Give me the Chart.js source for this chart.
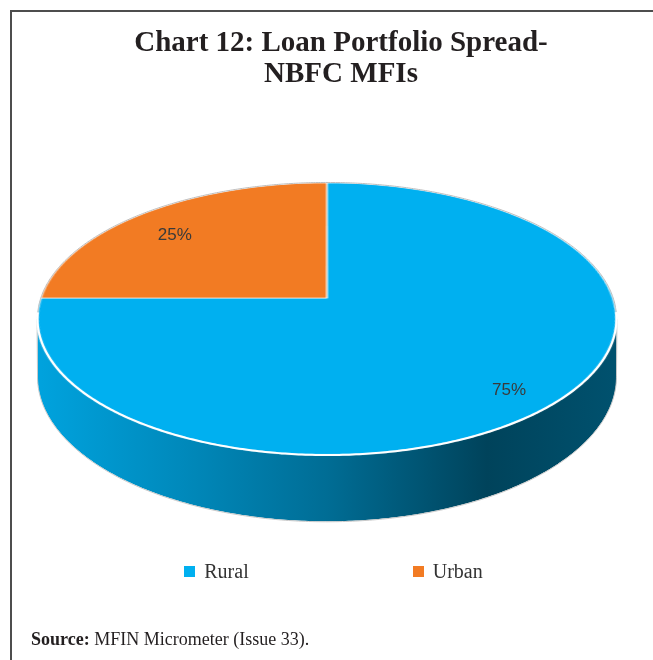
<!DOCTYPE html>
<html>
<head>
<meta charset="utf-8">
<script src="https://cdn.jsdelivr.net/npm/chart.js@4.4.1/dist/chart.umd.min.js"></script>
<style>
  html, body { margin: 0; padding: 0; background: #fff; }
  #wrap { position: relative; width: 653px; height: 660px; overflow: hidden; }
  #frame {
    position: absolute; left: 10px; top: 10px; right: -10px; bottom: -10px;
    border-top: 2px solid #4d4d4d; border-left: 2px solid #4d4d4d;
  }
  #chartPie { position: absolute; left: 0; top: 0; }
  #legend {
    position: absolute; left: 7px; width: 653px; top: 560px;
    display: flex; justify-content: center; gap: 164px;
    font: 20px 'Liberation Serif', serif; color: #333;
  }
  #legend span.item { display: flex; align-items: center; }
  #legend span.box { width: 11px; height: 11px; margin-right: 9px; }
  #source {
    position: absolute; left: 31px; top: 629px;
    font: 18px 'Liberation Serif', serif; color: #231f20;
  }
</style>
</head>
<body>
<div id="wrap">
  <div id="frame"></div>
  <canvas id="chartPie" width="653" height="660"></canvas>
  <div id="legend"></div>
  <div id="source"><b>Source:</b> MFIN Micrometer (Issue 33).</div>
</div>
<script>
// datos del gráfico
const categories = ["Rural", "Urban"];
const shares = [75, 25];
const sliceColors = ["#00B0F0", "#F27B23"];

// vista inclinada: proyección en perspectiva del disco del pie
const view = { cx: 327, cy: 298, a: 286, b: 0.1544, c: 132.8, depth: 56 };

function project(u, v) {
  const w = 1 - view.b * v;
  return { x: view.cx + (view.a * u) / w, y: view.cy + (view.c * v) / w, w };
}

function shade(hex, m) {
  const n = parseInt(hex.slice(1), 16);
  const r = Math.round(((n >> 16) & 255) * m);
  const g = Math.round(((n >> 8) & 255) * m);
  const b = Math.round((n & 255) * m);
  return `rgb(${r},${g},${b})`;
}

// --- plugin: convierte el pie plano en un pie 3D inclinado ---
const tiltedPie = {
  id: "tiltedPie",
  afterDatasetsDraw(chart) {
    const ctx = chart.ctx;
    const arcs = chart.getDatasetMeta(0).data;
    const { x: ox, y: oy, outerRadius: R } = arcs[0].getProps(["x", "y", "outerRadius"], true);

    // copiar el pie plano y borrarlo del canvas
    const pad = 4;
    const size = Math.ceil(2 * R + 2 * pad);
    const off = document.createElement("canvas");
    off.width = size;
    off.height = size;
    off.getContext("2d").drawImage(chart.canvas, ox - R - pad, oy - R - pad, size, size, 0, 0, size, size);
    ctx.save();
    ctx.clearRect(ox - R - pad, oy - R - pad, size, size);

    // lateral (solo la mitad delantera)
    const th0 = Math.asin(view.b);
    const step = 0.01;
    arcs.forEach((arc, i) => {
      for (const k of [-1, 0, 1]) {
        const s = Math.max(arc.startAngle + k * 2 * Math.PI, th0);
        const e = Math.min(arc.endAngle + k * 2 * Math.PI, Math.PI - th0);
        if (e <= s) continue;
        const col = sliceColors[i];
        const grad = ctx.createLinearGradient(view.cx - view.a, 0, view.cx + view.a, 0);
        grad.addColorStop(0, shade(col, 0.92));
        grad.addColorStop(0.25, shade(col, 0.78));
        grad.addColorStop(0.5, shade(col, 0.62));
        grad.addColorStop(0.78, shade(col, 0.38));
        grad.addColorStop(1, shade(col, 0.46));

        ctx.beginPath();
        for (let t = s; t < e; t += step) {
          const p = project(Math.cos(t), Math.sin(t));
          ctx.lineTo(p.x, p.y);
        }
        let p = project(Math.cos(e), Math.sin(e));
        ctx.lineTo(p.x, p.y);
        for (let t = e; t > s; t -= step) {
          p = project(Math.cos(t), Math.sin(t));
          ctx.lineTo(p.x, p.y + view.depth / p.w);
        }
        p = project(Math.cos(s), Math.sin(s));
        ctx.lineTo(p.x, p.y + view.depth / p.w);
        ctx.closePath();
        ctx.fillStyle = grad;
        ctx.fill();
      }
    });

    // borde gris de la base
    ctx.beginPath();
    let q = project(Math.cos(th0), Math.sin(th0));
    ctx.moveTo(q.x + 0.5, q.y);
    for (let t = th0; t <= Math.PI - th0 + 1e-6; t += step) {
      q = project(Math.cos(t), Math.sin(t));
      ctx.lineTo(q.x, q.y + view.depth / q.w + 0.5);
    }
    q = project(Math.cos(Math.PI - th0), Math.sin(Math.PI - th0));
    ctx.lineTo(q.x - 0.5, q.y);
    ctx.strokeStyle = "#c8c8c8";
    ctx.lineWidth = 1;
    ctx.stroke();

    // cara superior: cada fila del pie plano se reescala según la profundidad
    const yTop = view.cy - view.c / (1 + view.b);
    const yBot = view.cy + view.c / (1 - view.b);
    const vAt = (Y) => (Y - view.cy) / (view.c + view.b * (Y - view.cy));
    for (let Y = Math.floor(yTop) - 1; Y <= Math.ceil(yBot); Y++) {
      const v0 = vAt(Y), v1 = vAt(Y + 1);
      const w = 1 - view.b * (v0 + v1) / 2;
      const scale = view.a / (w * R);
      const sy = pad + R + v0 * R;
      const sh = (v1 - v0) * R;
      if (sy < 0 || sy + sh > size) continue;
      ctx.drawImage(off, 0, sy, size, sh, view.cx - (size / 2) * scale, Y, size * scale, 1);
    }

    // contorno de la cara superior
    ctx.beginPath();
    for (let t = Math.PI - th0; t <= 2 * Math.PI + th0; t += step) {
      const p = project(Math.cos(t), Math.sin(t));
      ctx.lineTo(p.x, p.y - 0.5);
    }
    ctx.strokeStyle = "#bdbdbd";
    ctx.lineWidth = 1;
    ctx.stroke();

    ctx.beginPath();
    for (let t = th0 - 0.05; t <= Math.PI - th0 + 0.05; t += step) {
      const p = project(Math.cos(t), Math.sin(t));
      ctx.lineTo(p.x, p.y);
    }
    ctx.strokeStyle = "#ffffff";
    ctx.lineWidth = 2;
    ctx.stroke();

    // etiquetas de porcentaje
    ctx.font = "17px 'Liberation Sans', sans-serif";
    ctx.fillStyle = "#3a3a3a";
    ctx.textAlign = "center";
    ctx.textBaseline = "middle";
    arcs.forEach((arc, i) => {
      const mid = (arc.startAngle + arc.endAngle) / 2;
      const p = project(0.82 * Math.cos(mid), 0.82 * Math.sin(mid));
      ctx.fillText(shares[i] + "%", p.x, p.y + 8);
    });
    ctx.restore();
  },
};

// leyenda en HTML (mucho espacio entre items)
const legendDiv = document.getElementById("legend");
categories.forEach((c, i) => {
  legendDiv.innerHTML += `<span class="item"><span class="box" style="background:${sliceColors[i]}"></span>${c}</span>`;
});

new Chart(document.getElementById("chartPie"), {
  type: "pie",
  data: {
    labels: categories,
    datasets: [
      {
        data: shares,
        backgroundColor: sliceColors,
        borderColor: "#ffffff",
        borderWidth: 1.2,
      },
    ],
  },
  options: {
    responsive: false,
    animation: false,
    events: [],
    layout: { padding: { left: 29, right: 0, top: 0, bottom: 100 } },
    plugins: {
      legend: { display: false },
      tooltip: { enabled: false },
      title: {
        display: true,
        text: ["Chart 12: Loan Portfolio Spread-", "NBFC MFIs"],
        color: "#231f20",
        font: { family: "'Liberation Serif', serif", size: 29, weight: "bold", lineHeight: 1.07 },
        padding: { top: 28, bottom: 10 },
      },
    },
  },
  plugins: [tiltedPie],
});
</script>
</body>
</html>
